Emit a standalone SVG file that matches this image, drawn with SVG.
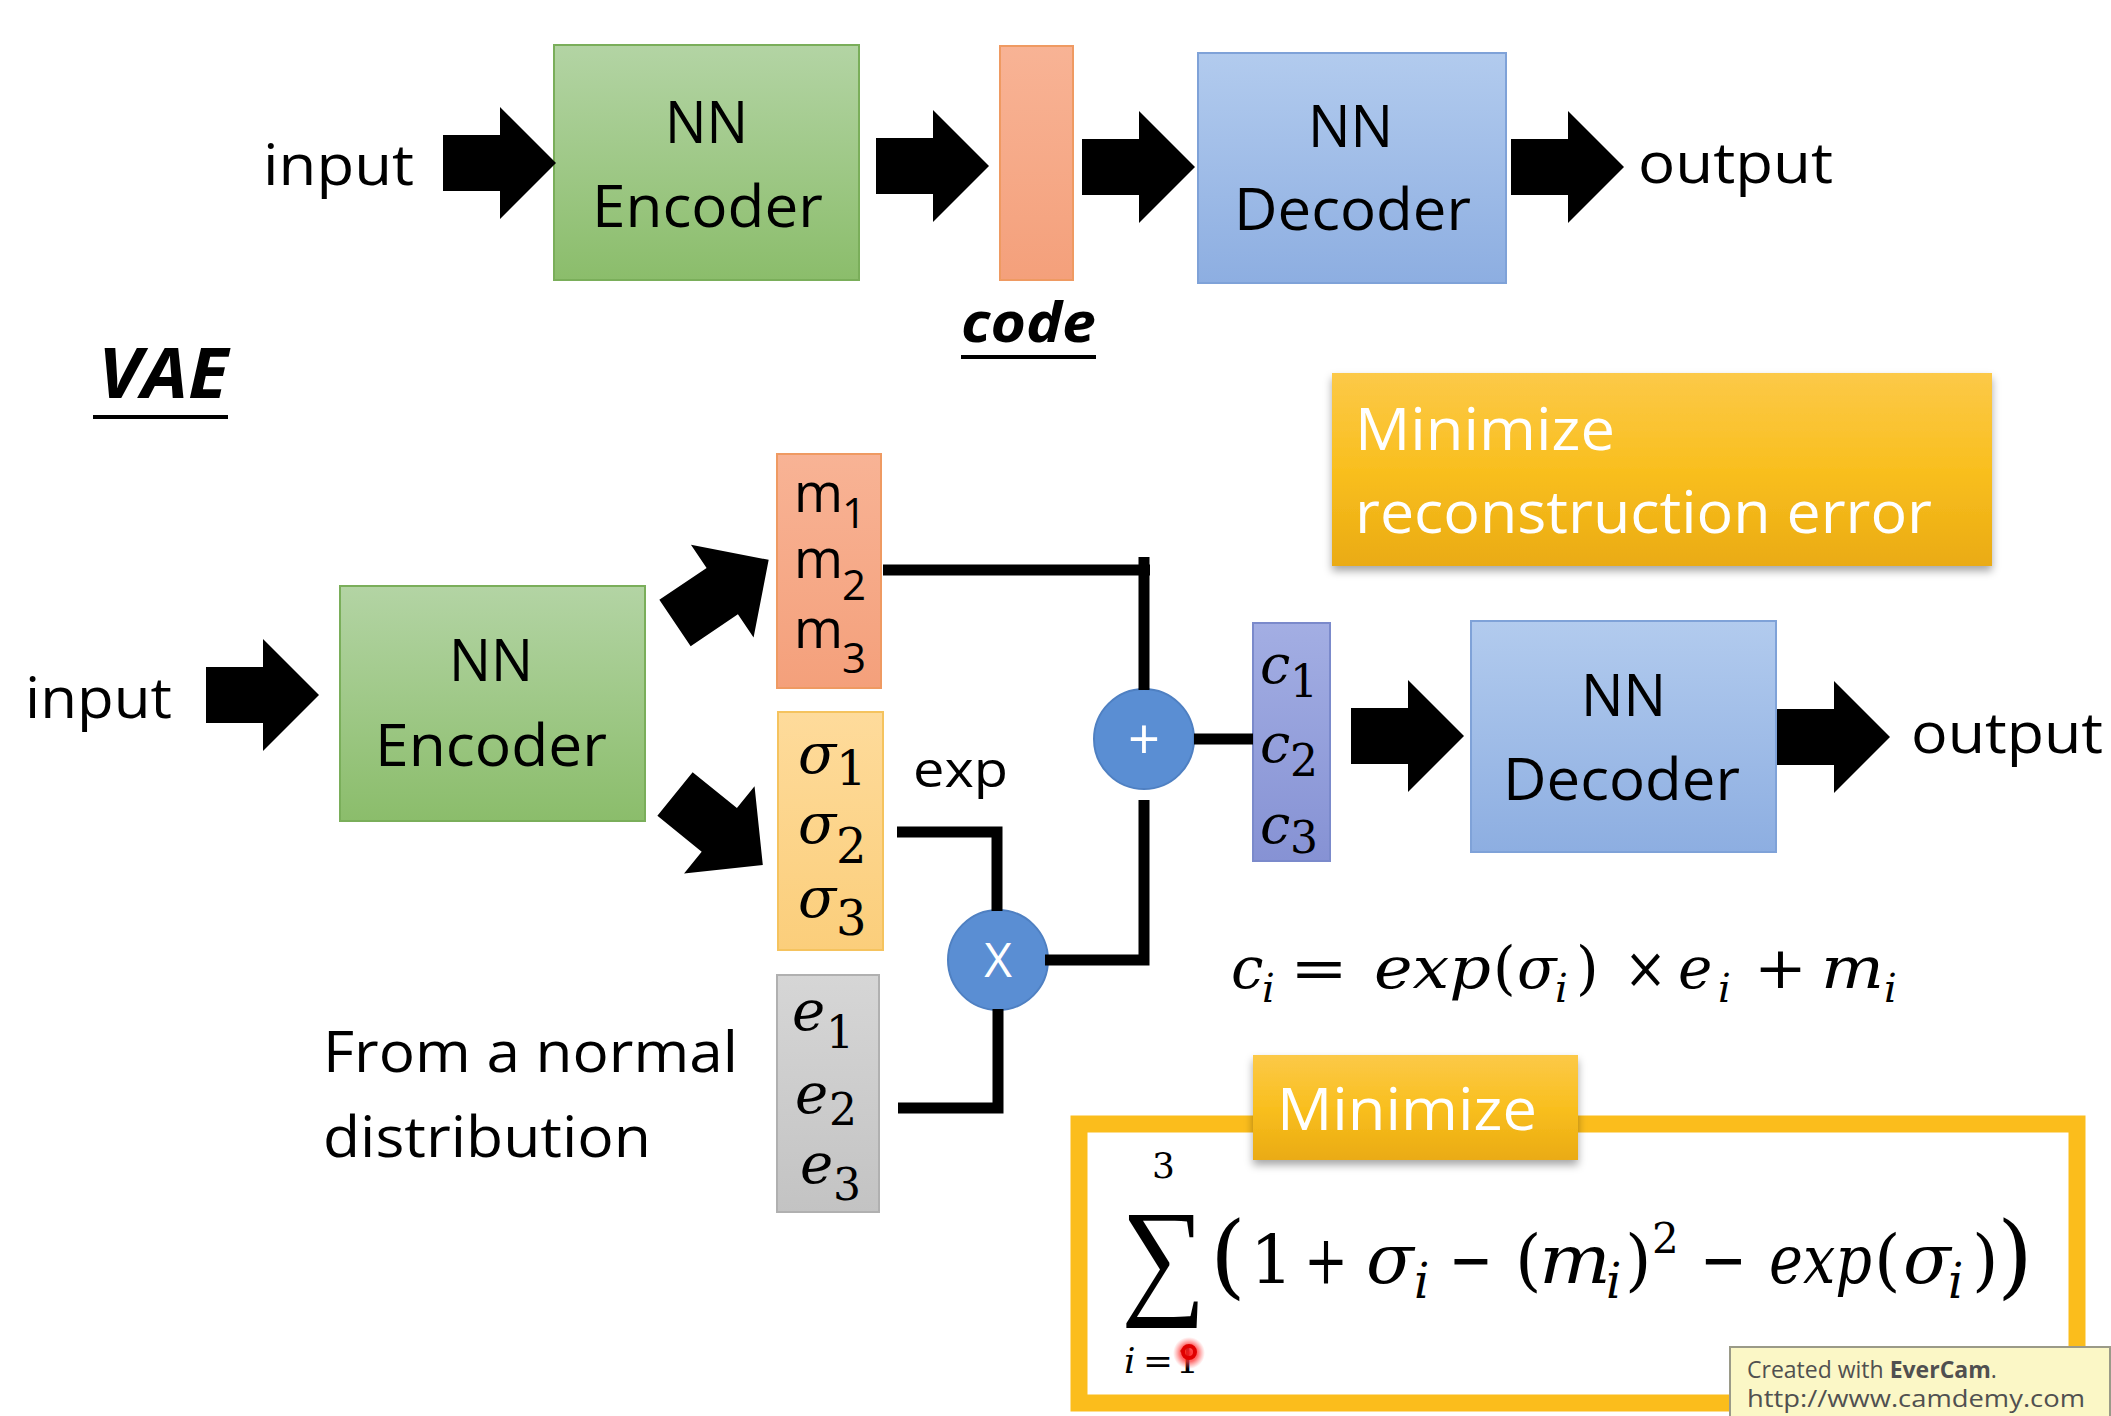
<svg xmlns="http://www.w3.org/2000/svg" xmlns:xlink="http://www.w3.org/1999/xlink" width="2111" height="1416" viewBox="0 0 2111 1416">
<style>
.lbl{font-family:'Open Sans','Noto Sans','DejaVu Sans',sans-serif;fill:#000}
.wht{fill:#fff}
.bi{font-weight:bold;font-style:italic}
.mt{font-family:'DejaVu Serif','Liberation Serif',serif;font-style:italic;fill:#000}
.mu{font-family:'DejaVu Serif','Liberation Serif',serif;font-style:normal;fill:#000}
.wm{font-family:'Open Sans','Noto Sans','DejaVu Sans',sans-serif;fill:#505050}
.con{fill:none;stroke:#000;stroke-width:11;stroke-linejoin:miter}
.circ{fill:#5a8ed3;stroke:#4f80c2;stroke-width:2}
</style>
<defs>
<linearGradient id="gGreen" x1="0" y1="0" x2="0" y2="1"><stop offset="0" stop-color="#b3d4a4"/><stop offset="1" stop-color="#8bbd6b"/></linearGradient>
<linearGradient id="gBlue" x1="0" y1="0" x2="0" y2="1"><stop offset="0" stop-color="#b2cbee"/><stop offset="1" stop-color="#8daee1"/></linearGradient>
<linearGradient id="gOrange" x1="0" y1="0" x2="0" y2="1"><stop offset="0" stop-color="#f8b395"/><stop offset="1" stop-color="#f4a07b"/></linearGradient>
<linearGradient id="gSigma" x1="0" y1="0" x2="0" y2="1"><stop offset="0" stop-color="#fedb9b"/><stop offset="1" stop-color="#fbce7b"/></linearGradient>
<linearGradient id="gGray" x1="0" y1="0" x2="0" y2="1"><stop offset="0" stop-color="#d6d6d6"/><stop offset="1" stop-color="#c3c3c3"/></linearGradient>
<linearGradient id="gC" x1="0" y1="0" x2="0" y2="1"><stop offset="0" stop-color="#a3aee3"/><stop offset="1" stop-color="#8692d4"/></linearGradient>
<linearGradient id="gGold" x1="0" y1="0" x2="0" y2="1"><stop offset="0" stop-color="#fcc948"/><stop offset="0.5" stop-color="#f9bf1f"/><stop offset="1" stop-color="#eaab12"/></linearGradient>
<radialGradient id="gRed"><stop offset="0" stop-color="#ff1a1a" stop-opacity="0.95"/><stop offset="0.55" stop-color="#ff3030" stop-opacity="0.7"/><stop offset="1" stop-color="#ff6060" stop-opacity="0"/></radialGradient>
<filter id="shadow" x="-10%" y="-10%" width="120%" height="140%"><feDropShadow dx="0" dy="5" stdDeviation="4" flood-color="#000" flood-opacity="0.35"/></filter>
<path id="blk" d="M0,-28 H57 V-56 L113,0 L57,56 V28 H0 Z" fill="#000"/>
</defs>
<rect width="2111" height="1416" fill="#fff"/>

<!-- Top autoencoder -->
<g id="top-input"><text class="lbl" x="263" y="185" font-size="56" textLength="151" lengthAdjust="spacingAndGlyphs">input</text></g>
<g id="top-encoder">
<rect x="554" y="45" width="305" height="235" fill="url(#gGreen)" stroke="#7aae5a" stroke-width="2"/>
<text class="lbl" x="665" y="143" font-size="58" textLength="83" lengthAdjust="spacingAndGlyphs">NN</text>
<text class="lbl" x="592" y="227" font-size="58" textLength="231" lengthAdjust="spacingAndGlyphs">Encoder</text>
</g>
<g id="top-code">
<rect x="1000" y="46" width="73" height="234" fill="url(#gOrange)" stroke="#ef9a62" stroke-width="2"/>
<text class="lbl bi" x="961" y="342" font-size="56" textLength="135" lengthAdjust="spacingAndGlyphs">code</text>
<rect x="961" y="355" width="135" height="4" fill="#000"/>
</g>
<g id="top-decoder">
<rect x="1198" y="53" width="308" height="230" fill="url(#gBlue)" stroke="#7fa2d8" stroke-width="2"/>
<text class="lbl" x="1308" y="147" font-size="58" textLength="85" lengthAdjust="spacingAndGlyphs">NN</text>
<text class="lbl" x="1234" y="230" font-size="58" textLength="237" lengthAdjust="spacingAndGlyphs">Decoder</text>
</g>
<g id="top-output"><text class="lbl" x="1638" y="183" font-size="56" textLength="195" lengthAdjust="spacingAndGlyphs">output</text></g>

<g id="vae-title">
<text class="lbl bi" x="98" y="398" font-size="70" textLength="130" lengthAdjust="spacingAndGlyphs">VAE</text>
<rect x="93" y="415" width="135" height="4" fill="#000"/>
</g>

<!-- VAE -->
<g id="vae-input"><text class="lbl" x="25" y="718" font-size="56" textLength="147" lengthAdjust="spacingAndGlyphs">input</text></g>
<g id="vae-encoder">
<rect x="340" y="586" width="305" height="235" fill="url(#gGreen)" stroke="#7aae5a" stroke-width="2"/>
<text class="lbl" x="449" y="681" font-size="58" textLength="84" lengthAdjust="spacingAndGlyphs">NN</text>
<text class="lbl" x="375" y="766" font-size="58" textLength="232" lengthAdjust="spacingAndGlyphs">Encoder</text>
</g>
<g id="m-vector">
<rect x="777" y="454" width="104" height="234" fill="url(#gOrange)" stroke="#ef9a62" stroke-width="2"/>
<text class="lbl" x="794" y="512" font-size="54" textLength="49" lengthAdjust="spacingAndGlyphs">m</text>
<text class="lbl" x="842" y="528" font-size="42">1</text>
<text class="lbl" x="794" y="578" font-size="54" textLength="49" lengthAdjust="spacingAndGlyphs">m</text>
<text class="lbl" x="842" y="600" font-size="42">2</text>
<text class="lbl" x="794" y="648" font-size="54" textLength="49" lengthAdjust="spacingAndGlyphs">m</text>
<text class="lbl" x="842" y="673" font-size="42">3</text>
</g>
<g id="sigma-vector">
<rect x="778" y="712" width="105" height="238" fill="url(#gSigma)" stroke="#f5c35e" stroke-width="2"/>
<text class="mt" x="798" y="773" font-size="56">σ</text>
<text class="mu" x="836" y="785" font-size="48">1</text>
<text class="mt" x="798" y="843" font-size="56">σ</text>
<text class="mu" x="836" y="863" font-size="48">2</text>
<text class="mt" x="798" y="917" font-size="56">σ</text>
<text class="mu" x="836" y="935" font-size="48">3</text>
</g>
<g id="exp-label"><text class="lbl" x="913" y="787" font-size="50" textLength="95" lengthAdjust="spacingAndGlyphs">exp</text></g>
<g id="e-vector">
<rect x="777" y="975" width="102" height="237" fill="url(#gGray)" stroke="#b0b0b0" stroke-width="2"/>
<text class="mt" x="792" y="1030" font-size="56">e</text>
<text class="mu" x="826" y="1048" font-size="44">1</text>
<text class="mt" x="795" y="1113" font-size="56">e</text>
<text class="mu" x="829" y="1125" font-size="44">2</text>
<text class="mt" x="800" y="1183" font-size="56">e</text>
<text class="mu" x="833" y="1200" font-size="44">3</text>
</g>
<g id="normal-label">
<text class="lbl" x="323" y="1072" font-size="56" textLength="415" lengthAdjust="spacingAndGlyphs">From a normal</text>
<text class="lbl" x="323" y="1157" font-size="56" textLength="328" lengthAdjust="spacingAndGlyphs">distribution</text>
</g>
<g id="mult-node">
<circle class="circ" cx="998" cy="960" r="50"/>
<text class="lbl wht" x="998" y="977" font-size="48" text-anchor="middle">X</text>
</g>
<g id="plus-node">
<circle class="circ" cx="1144" cy="739" r="50"/>
<text class="lbl wht" x="1144" y="759" font-size="56" text-anchor="middle">+</text>
</g>
<g id="c-vector">
<rect x="1253" y="623" width="77" height="238" fill="url(#gC)" stroke="#7b8acb" stroke-width="2"/>
<text class="mt" x="1260" y="683" font-size="54">c</text>
<text class="mu" x="1290" y="697" font-size="44">1</text>
<text class="mt" x="1260" y="762" font-size="54">c</text>
<text class="mu" x="1290" y="776" font-size="44">2</text>
<text class="mt" x="1260" y="843" font-size="54">c</text>
<text class="mu" x="1290" y="853" font-size="44">3</text>
</g>
<g id="vae-decoder">
<rect x="1471" y="621" width="305" height="231" fill="url(#gBlue)" stroke="#7fa2d8" stroke-width="2"/>
<text class="lbl" x="1581" y="716" font-size="58" textLength="85" lengthAdjust="spacingAndGlyphs">NN</text>
<text class="lbl" x="1503" y="800" font-size="58" textLength="237" lengthAdjust="spacingAndGlyphs">Decoder</text>
</g>
<g id="vae-output"><text class="lbl" x="1911" y="753" font-size="56" textLength="192" lengthAdjust="spacingAndGlyphs">output</text></g>

<g id="recon-box">
<rect x="1332" y="373" width="660" height="193" fill="url(#gGold)" filter="url(#shadow)"/>
<text class="lbl wht" x="1355" y="450" font-size="58" textLength="260" lengthAdjust="spacingAndGlyphs">Minimize</text>
<text class="lbl wht" x="1355" y="533" font-size="58" textLength="577" lengthAdjust="spacingAndGlyphs">reconstruction error</text>
</g>

<g id="ci-formula">
<text class="mt" x="1231" y="988" font-size="58">c</text>
<text class="mt" x="1262" y="1002" font-size="40">i</text>
<text class="mu" x="1290" y="988" font-size="58" textLength="58" lengthAdjust="spacingAndGlyphs">=</text>
<text class="mt" x="1374" y="988" font-size="58" textLength="117" lengthAdjust="spacingAndGlyphs">exp</text>
<text class="mu" x="1493" y="988" font-size="58">(</text>
<text class="mt" x="1517" y="988" font-size="58">σ</text>
<text class="mt" x="1555" y="1002" font-size="40">i</text>
<text class="mu" x="1576" y="988" font-size="58">)</text>
<text class="mu" x="1624" y="988" font-size="58" textLength="43" lengthAdjust="spacingAndGlyphs">×</text>
<text class="mt" x="1678" y="988" font-size="58">e</text>
<text class="mt" x="1718" y="1002" font-size="40">i</text>
<text class="mu" x="1754" y="988" font-size="58" textLength="53" lengthAdjust="spacingAndGlyphs">+</text>
<text class="mt" x="1821" y="988" font-size="58" textLength="63" lengthAdjust="spacingAndGlyphs">m</text>
<text class="mt" x="1884" y="1002" font-size="40">i</text>
</g>

<g id="kl-box">
<rect x="1079" y="1124" width="998" height="279" fill="#fff" stroke="#fbbd1c" stroke-width="17"/>
<text class="mu" x="1121" y="1300" font-size="130" textLength="85" lengthAdjust="spacingAndGlyphs" style="font-family:'Liberation Serif',serif">∑</text>
<text class="mu" x="1152" y="1178" font-size="36">3</text>
<text class="mt" x="1124" y="1373" font-size="36">i</text>
<text class="mu" x="1143" y="1373" font-size="36" textLength="30" lengthAdjust="spacingAndGlyphs">=</text>
<text class="mu" x="1176" y="1373" font-size="36">1</text>
<circle cx="1189" cy="1353" r="16" fill="url(#gRed)"/>
<circle cx="1189" cy="1352" r="6" fill="none" stroke="#e00000" stroke-width="4"/>
<text class="mu" x="1210" y="1287" font-size="92">(</text>
<text class="mu" x="1250" y="1283" font-size="68">1</text>
<text class="mu" x="1304" y="1283" font-size="68" textLength="44" lengthAdjust="spacingAndGlyphs">+</text>
<text class="mt" x="1366" y="1283" font-size="70">σ</text>
<text class="mt" x="1414" y="1298" font-size="48">i</text>
<text class="mu" x="1449" y="1283" font-size="68" textLength="44" lengthAdjust="spacingAndGlyphs">−</text>
<text class="mu" x="1515" y="1283" font-size="68">(</text>
<text class="mt" x="1539" y="1283" font-size="68" textLength="72" lengthAdjust="spacingAndGlyphs">m</text>
<text class="mt" x="1606" y="1298" font-size="48">i</text>
<text class="mu" x="1625" y="1283" font-size="68">)</text>
<text class="mu" x="1652" y="1253" font-size="42">2</text>
<text class="mu" x="1700" y="1283" font-size="68" textLength="47" lengthAdjust="spacingAndGlyphs">−</text>
<text class="mt" x="1769" y="1283" font-size="68" textLength="103" lengthAdjust="spacingAndGlyphs">exp</text>
<text class="mu" x="1874" y="1283" font-size="68">(</text>
<text class="mt" x="1903" y="1283" font-size="70">σ</text>
<text class="mt" x="1948" y="1298" font-size="48">i</text>
<text class="mu" x="1972" y="1283" font-size="68">)</text>
<text class="mu" x="1997" y="1287" font-size="92">)</text>
</g>
<g id="kl-label">
<rect x="1253" y="1055" width="325" height="105" fill="url(#gGold)" filter="url(#shadow)"/>
<text class="lbl wht" x="1277" y="1130" font-size="58" textLength="260" lengthAdjust="spacingAndGlyphs">Minimize</text>
</g>

<g id="connectors">
<use href="#blk" transform="translate(443,163)"/>
<use href="#blk" transform="translate(876,166)"/>
<use href="#blk" transform="translate(1082,167)"/>
<use href="#blk" transform="translate(1511,167)"/>
<use href="#blk" transform="translate(206,695)"/>
<use href="#blk" transform="translate(675,623) rotate(-34)"/>
<use href="#blk" transform="translate(675,794) rotate(39)"/>
<use href="#blk" transform="translate(1351,736)"/>
<use href="#blk" transform="translate(1777,737)"/>
<path class="con" d="M883 570 H1150"/>
<path class="con" d="M1144 557 V690"/>
<path class="con" d="M1194 739 H1253" stroke-width="13"/>
<path class="con" d="M1144 800 V960 H1045"/>
<path class="con" d="M897 832 H997 V911"/>
<path class="con" d="M898 1108 H998 V1009"/>
</g>

<g id="watermark">
<rect x="1730" y="1347" width="380" height="72" fill="#fbf7c6" stroke="#9a9a88" stroke-width="2"/>
<text class="wm" x="1747" y="1378" font-size="23">Created with <tspan font-weight="bold">EverCam</tspan>.</text>
<text class="wm" x="1747" y="1407" font-size="23" textLength="338" lengthAdjust="spacingAndGlyphs">http://www.camdemy.com</text>
</g>
</svg>
